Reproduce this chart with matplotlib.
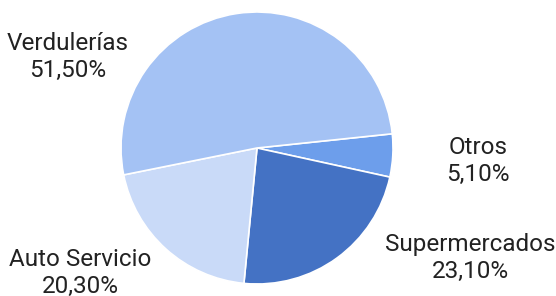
import matplotlib.pyplot as plt

plt.rcParams['font.family'] = ['Roboto', 'DejaVu Sans']

# data (clockwise from just above 3 o'clock)
categories = ["Otros", "Supermercados", "Auto Servicio", "Verdulerías"]
shares = [5.1, 23.1, 20.3, 51.5]
pct_labels = ["5,10%", "23,10%", "20,30%", "51,50%"]
colors = ["#6d9eeb", "#4472c4", "#c9daf8", "#a4c2f4"]

W, H = 556, 296
fig = plt.figure(figsize=(W / 100, H / 100), dpi=100)
ax = fig.add_axes([0, 0, 1, 1])

ax.pie(shares, colors=colors, startangle=6, counterclock=False,
       radius=136, center=(257, 148), frame=True,
       wedgeprops=dict(edgecolor="white", linewidth=1.2))
ax.set_xlim(0, W)
ax.set_ylim(0, H)
ax.set_aspect("equal")
ax.axis("off")

# label positions in pixels (x center, y from top)
label_pos = {"Otros": (478, 161), "Supermercados": (470, 258),
             "Auto Servicio": (80, 273), "Verdulerías": (68, 57)}
for cat, pct in zip(categories, pct_labels):
    x, y = label_pos[cat]
    ax.text(x, H - y, f"{cat}\n{pct}", ha="center", va="center",
            fontsize=17.5, color="#222222", linespacing=1.2)

fig.savefig("out.png", dpi=100)
